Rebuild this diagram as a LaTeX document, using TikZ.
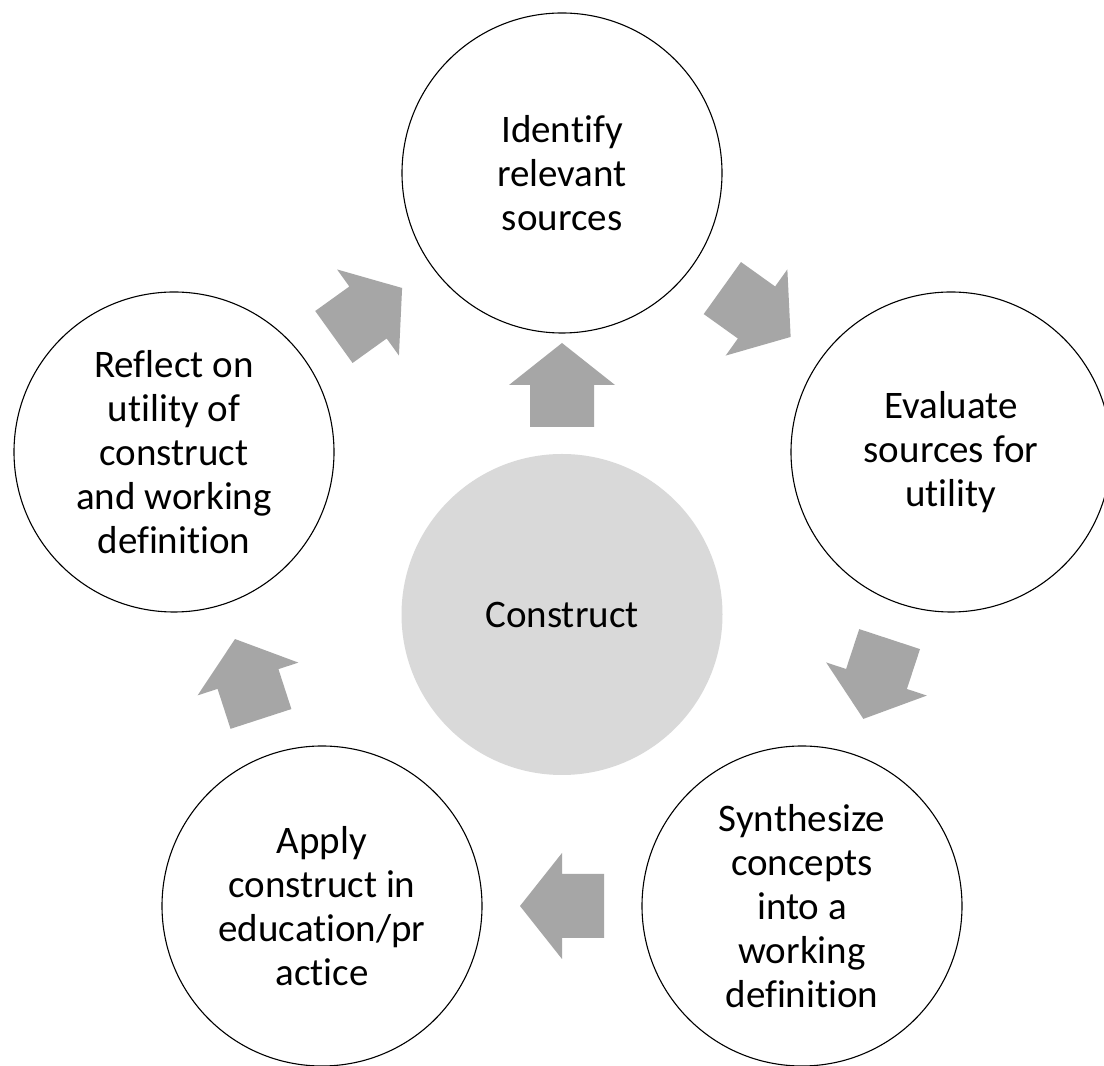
\documentclass[tikz,border=0pt]{standalone}
\usepackage{fontspec}
\setmainfont{Carlito}[Ligatures={NoCommon}]
\usetikzlibrary{calc}
\definecolor{arrowgray}{HTML}{A6A6A6}
\definecolor{centergray}{HTML}{D9D9D9}
\tikzset{
  stepcircle/.style={circle, draw=black, line width=1.1pt, fill=white, minimum size=320pt, inner sep=0pt, align=center, font=\fontsize{39}{44}\selectfont},
  hubcircle/.style={circle, fill=centergray, minimum size=321pt, inner sep=0pt, align=center, font=\fontsize{39}{44}\selectfont},
  pics/blockarrow/.style={code={\fill[arrowgray] (-42,-32) -- (0,-32) -- (0,-53) -- (42,0) -- (0,53) -- (0,32) -- (-42,32) -- cycle;}}
}
\begin{document}
\begin{tikzpicture}[x=1pt,y=1pt]
\fill[white] (0,0) rectangle (1104,1066);
\useasboundingbox (0,0) rectangle (1104,1066);
\node[hubcircle] (hub) at (562,451.5) {Construct};
\node[stepcircle] (top) at (562,893) {Identify\\relevant\\sources};
\node[stepcircle] (right) at (951,614) {Evaluate\\sources for\\utility};
\node[stepcircle] (bright) at (802,160) {Synthesize\\concepts\\into a\\working\\definition};
\node[stepcircle] (bleft) at (322,160) {Apply\\construct in\\education/pr\\actice};
\node[stepcircle] (left) at (174,614) {Reflect on\\utility of\\construct\\and working\\definition};
\coordinate (hubarrow) at (562,681);
\pic[rotate=90] at (hubarrow) {blockarrow};
\pic[rotate=-35.6] at ($(top)!0.5!(right)$) {blockarrow};
\pic[rotate=-108.2] at ($(right)!0.5!(bright)$) {blockarrow};
\pic[rotate=180] at ($(bright)!0.5!(bleft)$) {blockarrow};
\pic[rotate=108] at ($(bleft)!0.5!(left)$) {blockarrow};
\pic[rotate=35.7] at ($(left)!0.5!(top)$) {blockarrow};
\end{tikzpicture}
\end{document}
